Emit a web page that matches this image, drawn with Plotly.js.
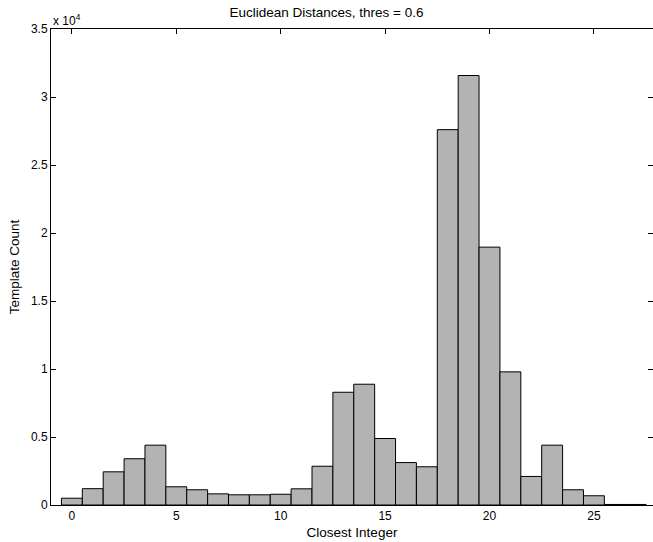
<!DOCTYPE html>
<html>
<head>
<meta charset="utf-8">
<script src="https://cdn.plot.ly/plotly-3.0.1.min.js"></script>
<style>html,body{margin:0;padding:0;background:#fff;overflow:hidden;}</style>
</head>
<body>
<div id="chart" style="width:653px;height:542px;"></div>
<script>
const bins = [0,1,2,3,4,5,6,7,8,9,10,11,12,13,14,15,16,17,18,19,20,21,22,23,24,25,26,27];
const counts = [500,1200,2440,3400,4400,1340,1120,820,750,750,790,1190,2850,8290,8880,4890,3120,2810,27600,31580,18960,9790,2100,4400,1120,680,40,40];
const yTickVals = [0,5000,10000,15000,20000,25000,30000,35000];
const yTickText = ['0','0.5','1','1.5','2','2.5','3','3.5'];
const xTickVals = [0,5,10,15,20,25];

const fam = 'Liberation Sans, Arial, Helvetica, sans-serif';
const font = {family: fam, size: 12, color: '#000'};
const titleFont = {family: fam, size: 13.5, color: '#000'};

Plotly.newPlot('chart', [{
  type: 'bar',
  x: bins,
  y: counts,
  width: 1,
  marker: {color: '#b3b3b3', line: {color: '#000', width: 1}},
  hoverinfo: 'x+y'
}], {
  width: 653, height: 542,
  margin: {l: 51, r: 0, t: 29, b: 37},
  paper_bgcolor: '#fff', plot_bgcolor: '#fff',
  font: font,
  bargap: 0,
  showlegend: false,
  title: {text: 'Euclidean Distances, thres = 0.6', font: titleFont, x: 0.5, xanchor: 'center', y: 0.978, yanchor: 'middle'},
  xaxis: {
    range: [-1, 27.83],
    tickvals: xTickVals,
    ticks: 'inside', ticklen: 5, tickcolor: '#000', tickwidth: 1,
    showline: true, linecolor: '#000', linewidth: 1, mirror: 'ticks',
    showgrid: false, zeroline: false,
    layer: 'below traces',
    tickfont: font,
    title: {text: 'Closest Integer', font: titleFont, standoff: 5}
  },
  yaxis: {
    range: [0, 35000],
    tickvals: yTickVals, ticktext: yTickText,
    ticks: 'inside', ticklen: 5, tickcolor: '#000', tickwidth: 1,
    showline: true, linecolor: '#000', linewidth: 1, mirror: 'ticks',
    showgrid: false, zeroline: false,
    layer: 'below traces',
    tickfont: font,
    title: {text: 'Template Count', font: titleFont, standoff: 8}
  },
  annotations: [{
    text: 'x 10<sup>4</sup>', xref: 'paper', yref: 'paper', x: 0, y: 1,
    xanchor: 'left', yanchor: 'bottom', showarrow: false, font: font, yshift: -1
  }]
}, {displayModeBar: false, staticPlot: true});
</script>
</body>
</html>
